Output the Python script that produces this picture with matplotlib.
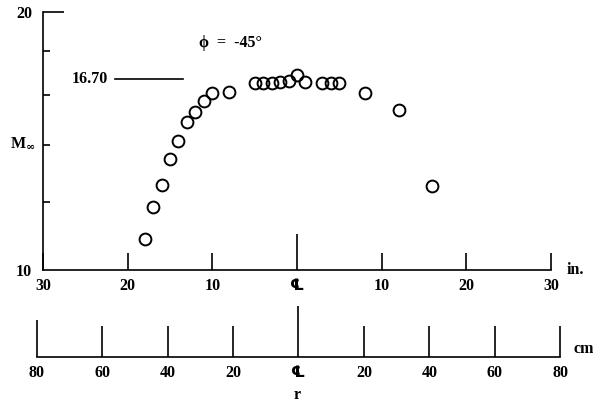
import matplotlib
matplotlib.use("Agg")
import matplotlib.pyplot as plt

plt.rcParams["font.family"] = ["Liberation Serif", "DejaVu Serif", "DejaVu Sans"]
plt.rcParams["font.weight"] = "bold"
plt.rcParams["mathtext.fontset"] = "dejavuserif"

# Data: radial position (in.) and free-stream Mach number.
r_in = [-18, -17, -16, -15, -14, -13, -12, -11, -10, -8, -5, -4, -3, -2, -1,
        0, 1, 3, 4, 5, 8, 12, 16]
mach = [10.86, 11.83, 12.55, 13.46, 14.14, 14.87, 15.28, 15.76, 16.08, 16.14,
        16.54, 16.54, 16.54, 16.55, 16.62, 16.88, 16.58, 16.54, 16.51, 16.54,
        16.08, 15.35, 12.53]

ref_mach = 16.70
ref_span = [-21.5, -13.5]

in_ticks = [-30, -20, -10, 0, 10, 20, 30]
in_labels = ["30", "20", "10", "\u2104", "10", "20", "30"]
cm_ticks = [-80, -60, -40, -20, 0, 20, 40, 60, 80]
cm_labels = ["80", "60", "40", "20", "\u2104", "20", "40", "60", "80"]
m_ticks = [10, 12, 14, 16, 18, 20]
m_labels = ["10", "", "", "", "", "20"]

FS = 11.5
W, H = 593, 405
fig = plt.figure(figsize=(W / 100, H / 100), dpi=100)

# Main axes (inches scale).
ax = fig.add_axes([43 / W, (H - 270) / H, (551 - 43) / W, (270 - 12) / H])
ax.plot(r_in, mach, "o", mfc="none", mec="black", ms=8.5, mew=1.4)
ax.plot(ref_span, [ref_mach, ref_mach], color="black", lw=1.2)
ax.text(ref_span[0] - 0.8, ref_mach, "16.70", ha="right", va="center",
        fontsize=FS)
ax.text(-7.9, 18.4, "\u03d5  =  -45\u00b0", ha="center", va="center",
        fontsize=FS)

ax.set_yscale("log")
ax.set_xlim(-30, 30)
ax.set_ylim(10, 20)
ax.set_yticks(m_ticks)
ax.set_yticklabels(m_labels, fontsize=FS)
ax.yaxis.set_minor_locator(matplotlib.ticker.NullLocator())
ax.set_xticks(in_ticks)
ax.set_xticklabels(in_labels, fontsize=FS)
for s in ["top", "right"]:
    ax.spines[s].set_visible(False)
for s in ["left", "bottom"]:
    ax.spines[s].set_linewidth(1.2)
ax.tick_params(axis="x", direction="in", length=12, width=1.2, pad=6)
ax.tick_params(axis="y", direction="in", length=5, width=1.2, pad=8)
ax.xaxis.get_major_ticks()[3].tick1line.set_markersize(26)
ax.yaxis.get_major_ticks()[-1].tick1line.set_markersize(15)
ax.yaxis.get_major_ticks()[0].tick1line.set_markersize(0)
ax.text(1.03, 0.0, "in.", transform=ax.transAxes, ha="left", va="center",
        fontsize=FS)
fig.text(10 / W, 1 - 143 / H, r"M$_\infty$", ha="left", va="center",
         fontsize=FS)

# Secondary axes (centimetre scale).
ax2 = fig.add_axes([36.7 / W, (H - 356.7) / H, (560.3 - 36.7) / W, 0.001])
ax2.set_xlim(-80, 80)
ax2.set_yticks([])
ax2.set_xticks(cm_ticks)
ax2.set_xticklabels(cm_labels, fontsize=FS)
for s in ["top", "right", "left"]:
    ax2.spines[s].set_visible(False)
ax2.spines["bottom"].set_linewidth(1.2)
ax2.tick_params(axis="x", direction="in", length=22, width=1.2, pad=6)
ax2.xaxis.get_major_ticks()[4].tick1line.set_markersize(37)
ax2.xaxis.get_major_ticks()[0].tick1line.set_markersize(27)
ax2.text(1.025, 0.0, "cm", transform=ax2.transAxes, ha="left", va="bottom",
         fontsize=FS)

fig.text(297 / W, 1 - 395 / H, "r", ha="center", va="center", fontsize=FS)

fig.savefig("out.png", dpi=100)
